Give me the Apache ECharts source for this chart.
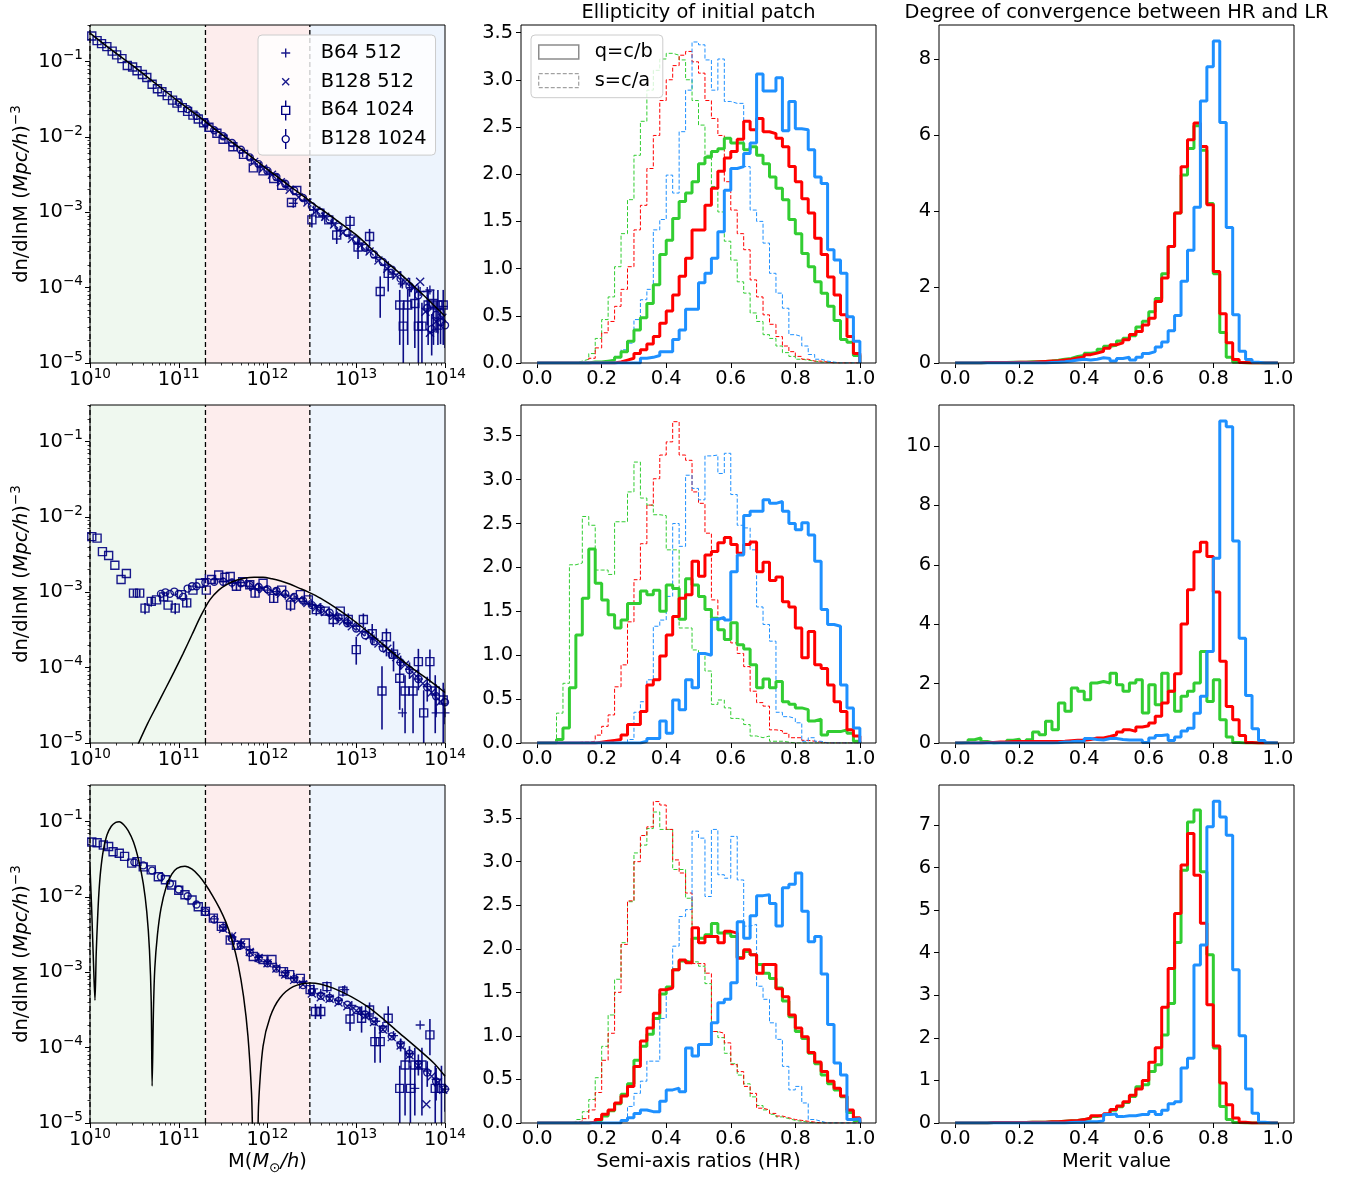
<!DOCTYPE html>
<html>
<head>
<meta charset="utf-8">
<script src="https://cdn.jsdelivr.net/npm/echarts@6/dist/echarts.min.js"></script>
<style>
  html, body { margin: 0; padding: 0; background: #ffffff; }
  #chart { width: 1360px; height: 1178px; }
</style>
</head>
<body>
<div id="chart"></div>
<script>
// ---------------- axis ranges and ticks ----------------
const massRange = [10, 14];            // log10 M [Msun/h]
const densRange = [-5, -0.513];        // log10 dn/dlnM [(Mpc/h)^-3]
const ratioRange = [-0.05, 1.05];
const ellipYMax = [3.58, 3.85, 3.88];
const meritYMax = [8.90, 11.38, 7.94];
const massTickExp = [10, 11, 12, 13, 14];
const densTickExp = [-5, -4, -3, -2, -1];
const ratioTicks = [0, 0.2, 0.4, 0.6, 0.8, 1.0];
const ellipTicks = [0, 0.5, 1.0, 1.5, 2.0, 2.5, 3.0, 3.5];
const meritTicks = [[0, 2, 4, 6, 8], [0, 2, 4, 6, 8, 10], [0, 1, 2, 3, 4, 5, 6, 7]];
const massBandEdges = [1e10, 2e11, 3e12, 1e14];   // low / mid / high mass ranges
const binWidth = 0.02;

// ---------------- mass functions (log10 M, log10 dn/dlnM) ----------------
const hmfTheory1 = [[10.0,-0.62],[10.25,-0.85],[10.5,-1.07],[10.75,-1.30],[11.0,-1.53],[11.25,-1.75],[11.5,-1.98],[11.75,-2.20],[12.0,-2.43],[12.25,-2.65],[12.5,-2.87],[12.75,-3.08],[13.0,-3.30],[13.25,-3.57],[13.5,-3.82],[13.75,-4.09],[14.0,-4.38]];
const b64_1024_1 = [[10.02,-0.66],[10.08,-0.72],[10.13,-0.76],[10.19,-0.80],[10.25,-0.86],[10.30,-0.91],[10.36,-0.96],[10.42,-1.05],[10.48,-1.07],[10.53,-1.12],[10.59,-1.17],[10.64,-1.21],[10.70,-1.30],[10.76,-1.36],[10.81,-1.40],[10.87,-1.45],[10.93,-1.51],[10.98,-1.55],[11.04,-1.61],[11.10,-1.66],[11.16,-1.71],[11.22,-1.76],[11.28,-1.81],[11.34,-1.87],[11.43,-1.95],[11.50,-2.03],[11.61,-2.13],[11.73,-2.23],[11.84,-2.41],[11.95,-2.45],[12.07,-2.55],[12.16,-2.64],[12.27,-2.87],[12.33,-2.71],[12.50,-3.10],[12.59,-3.01],[12.69,-3.10],[12.78,-3.30],[12.93,-3.12],[13.02,-3.46],[13.15,-3.32],[13.27,-4.05],[13.36,-3.81],[13.49,-4.23],[13.53,-4.51],[13.58,-4.23],[13.66,-4.21],[13.70,-4.51],[13.74,-4.51],[13.81,-4.23],[13.87,-4.21],[13.92,-4.23],[13.98,-4.23]];
const err64_1 = [[12.50,-3.20,-3.02],[12.78,-3.42,-3.20],[12.93,-3.22,-3.04],[13.02,-3.62,-3.34],[13.15,-3.45,-3.22],[13.27,-4.40,-3.85],[13.36,-4.05,-3.65],[13.49,-4.76,-4.03],[13.53,-5.3,-4.20],[13.58,-4.76,-4.03],[13.66,-4.80,-4.00],[13.70,-5.3,-4.20],[13.74,-5.3,-4.20],[13.81,-4.76,-4.03],[13.87,-4.76,-4.03],[13.92,-4.76,-4.03],[13.98,-4.76,-4.03]];
const b128_1024_1 = [[11.0,-1.54],[11.1,-1.63],[11.2,-1.72],[11.3,-1.81],[11.4,-1.91],[11.5,-1.99],[11.6,-2.08],[11.7,-2.17],[11.8,-2.27],[11.9,-2.36],[12.0,-2.45],[12.1,-2.53],[12.2,-2.62],[12.3,-2.71],[12.4,-2.81],[12.5,-2.92],[12.6,-3.00],[12.7,-3.10],[12.8,-3.19],[12.9,-3.27],[13.0,-3.37],[13.1,-3.47],[13.2,-3.56],[13.3,-3.66],[13.4,-3.76],[13.5,-3.88],[13.6,-3.98],[13.7,-4.10],[13.8,-4.27],[13.85,-4.55],[13.9,-4.36],[13.95,-4.46],[14.0,-4.50]];
const err128_1 = [[13.5,-4.00,-3.78],[13.6,-4.12,-3.87],[13.7,-4.27,-3.97],[13.8,-4.50,-4.10],[13.85,-4.90,-4.35],[13.9,-4.60,-4.18],[13.95,-4.75,-4.26],[14.0,-4.80,-4.30]];
const b64_512_1 = [[11.32,-1.84],[11.42,-1.93],[11.52,-2.02],[11.62,-2.12],[11.72,-2.21],[11.82,-2.30],[11.92,-2.39],[12.02,-2.48],[12.12,-2.57],[12.22,-2.66],[12.29,-2.88],[12.42,-2.84],[12.52,-2.97],[12.62,-3.05],[12.72,-3.14],[12.82,-3.24],[12.92,-3.30],[13.02,-3.42],[13.12,-3.50],[13.22,-3.60],[13.32,-3.70],[13.42,-3.82],[13.52,-3.95],[13.62,-4.00],[13.72,-4.05],[13.80,-4.05],[13.83,-4.03],[13.92,-4.55],[13.98,-4.25]];
const b128_512_1 = [[11.85,-2.33],[11.95,-2.42],[12.05,-2.50],[12.15,-2.60],[12.25,-2.70],[12.35,-2.80],[12.45,-2.87],[12.55,-2.98],[12.65,-3.06],[12.75,-3.16],[12.85,-3.27],[12.95,-3.35],[13.05,-3.44],[13.15,-3.52],[13.25,-3.64],[13.35,-3.75],[13.45,-3.84],[13.55,-3.92],[13.65,-4.00],[13.72,-3.92],[13.78,-4.32],[13.83,-4.60],[13.90,-4.45],[13.97,-4.40]];

const hmfTheory2 = [[10.54,-5.02],[10.65,-4.74],[10.75,-4.51],[10.85,-4.28],[10.95,-4.05],[11.05,-3.81],[11.15,-3.56],[11.25,-3.31],[11.35,-3.10],[11.45,-2.97],[11.55,-2.89],[11.65,-2.84],[11.75,-2.81],[11.85,-2.80],[11.95,-2.80],[12.05,-2.82],[12.15,-2.85],[12.25,-2.89],[12.35,-2.94],[12.45,-2.99],[12.6,-3.08],[12.8,-3.23],[13.0,-3.40],[13.2,-3.59],[13.4,-3.79],[13.6,-3.98],[13.8,-4.15],[14.0,-4.33]];
const b64_1024_2 = [[10.02,-2.26],[10.08,-2.28],[10.14,-2.46],[10.21,-2.51],[10.28,-2.64],[10.35,-2.83],[10.41,-2.75],[10.49,-3.01],[10.56,-3.01],[10.62,-3.21],[10.69,-3.12],[10.75,-3.10],[10.83,-3.06],[10.88,-3.17],[10.96,-3.21],[11.03,-3.03],[11.09,-3.14],[11.16,-2.97],[11.24,-2.88],[11.31,-2.97],[11.37,-2.83],[11.45,-2.77],[11.52,-2.80],[11.58,-2.79],[11.65,-2.92],[11.72,-2.86],[11.80,-2.90],[11.86,-3.01],[11.95,-2.88],[12.07,-3.08],[12.16,-2.97],[12.26,-3.17],[12.37,-3.03],[12.46,-3.10],[12.55,-3.23],[12.65,-3.25],[12.74,-3.36],[12.82,-3.25],[12.91,-3.36],[13.00,-3.76],[13.08,-3.36],[13.18,-3.55],[13.29,-4.31],[13.34,-3.59],[13.42,-3.82],[13.49,-4.14],[13.55,-4.31],[13.64,-4.31],[13.70,-3.92],[13.76,-4.60],[13.83,-3.92],[13.89,-4.31],[13.98,-4.43]];
const err64_2 = [[10.49,-3.06,-2.96],[10.56,-3.06,-2.96],[10.62,-3.29,-3.14],[10.69,-3.19,-3.06],[10.83,-3.12,-3.00],[10.96,-3.29,-3.14],[11.09,-3.20,-3.08],[11.65,-2.98,-2.87],[11.86,-3.07,-2.95],[12.07,-3.14,-3.03],[12.26,-3.25,-3.10],[12.55,-3.31,-3.16],[12.74,-3.46,-3.28],[12.91,-3.46,-3.28],[13.00,-3.96,-3.59],[13.08,-3.46,-3.28],[13.18,-3.70,-3.42],[13.29,-4.82,-3.98],[13.34,-3.85,-3.48],[13.42,-4.05,-3.65],[13.49,-4.56,-3.90],[13.55,-4.87,-4.10],[13.64,-4.87,-4.10],[13.70,-4.20,-3.75],[13.76,-5.3,-4.30],[13.83,-4.20,-3.76],[13.89,-4.87,-4.10],[13.98,-5.3,-4.20]];
const b128_1024_2 = [[10.80,-3.02],[10.85,-3.00],[10.90,-3.02],[10.95,-2.99],[11.00,-3.02],[11.05,-3.06],[11.10,-2.95],[11.15,-2.92],[11.20,-2.92],[11.30,-2.87],[11.40,-2.86],[11.50,-2.86],[11.60,-2.87],[11.70,-2.88],[11.80,-2.90],[11.90,-2.93],[12.00,-2.96],[12.10,-2.98],[12.20,-3.02],[12.30,-3.06],[12.40,-3.11],[12.50,-3.17],[12.60,-3.22],[12.70,-3.27],[12.80,-3.33],[12.90,-3.41],[13.00,-3.48],[13.10,-3.57],[13.20,-3.65],[13.30,-3.74],[13.40,-3.83],[13.50,-3.93],[13.60,-4.03],[13.70,-4.15],[13.80,-4.26],[13.90,-4.38],[14.00,-4.46]];
const err128_2 = [[13.5,-4.03,-3.84],[13.6,-4.15,-3.93],[13.7,-4.30,-4.03],[13.8,-4.45,-4.12],[13.9,-4.62,-4.22],[14.0,-4.75,-4.28]];
const b64_512_2 = [[11.30,-2.82],[11.40,-2.83],[11.50,-2.86],[11.60,-2.88],[11.70,-2.87],[11.80,-2.92],[11.90,-2.95],[12.00,-2.97],[12.10,-2.99],[12.20,-3.04],[12.30,-3.08],[12.40,-3.12],[12.50,-3.16],[12.60,-3.20],[12.70,-3.30],[12.80,-3.35],[12.90,-3.40],[13.00,-3.45],[13.10,-3.52],[13.20,-3.62],[13.30,-3.72],[13.40,-3.80],[13.50,-3.93],[13.52,-4.60],[13.60,-4.02],[13.70,-4.15],[13.80,-4.25],[13.90,-4.60],[14.00,-4.60]];
const b128_512_2 = [[11.85,-2.93],[11.95,-2.96],[12.05,-2.99],[12.15,-3.02],[12.25,-3.07],[12.35,-3.10],[12.45,-3.14],[12.55,-3.20],[12.65,-3.26],[12.75,-3.31],[12.85,-3.38],[12.95,-3.45],[13.05,-3.53],[13.15,-3.58],[13.25,-3.68],[13.35,-3.75],[13.45,-3.86],[13.55,-3.96],[13.65,-4.08],[13.75,-4.21],[13.85,-4.33],[13.95,-4.45]];

const hmfTheory3 = [[10.0,-1.60],[10.02,-2.20],[10.04,-2.90],[10.056,-3.37],[10.07,-2.75],[10.085,-2.30],[10.10,-1.95],[10.12,-1.65],[10.15,-1.38],[10.19,-1.18],[10.24,-1.06],[10.29,-1.01],[10.33,-1.00],[10.38,-1.04],[10.43,-1.12],[10.49,-1.27],[10.55,-1.52],[10.60,-1.82],[10.64,-2.20],[10.67,-2.70],[10.69,-3.40],[10.70,-4.51],[10.715,-3.50],[10.73,-2.95],[10.76,-2.50],[10.80,-2.15],[10.86,-1.86],[10.92,-1.70],[10.98,-1.62],[11.07,-1.59],[11.15,-1.63],[11.23,-1.72],[11.30,-1.83],[11.38,-1.98],[11.46,-2.15],[11.53,-2.33],[11.60,-2.57],[11.67,-2.90],[11.73,-3.32],[11.78,-3.85],[11.82,-4.60],[11.85,-5.60],[11.88,-5.60],[11.90,-4.74],[11.95,-3.98],[12.03,-3.59],[12.14,-3.34],[12.29,-3.19],[12.48,-3.14],[12.74,-3.21],[13.12,-3.45],[13.49,-3.81],[13.87,-4.20],[14.0,-4.38]];
const b64_1024_3 = [[10.02,-1.27],[10.08,-1.28],[10.15,-1.31],[10.21,-1.33],[10.26,-1.40],[10.33,-1.42],[10.39,-1.46],[10.47,-1.55],[10.53,-1.53],[10.60,-1.60],[10.69,-1.64],[10.77,-1.73],[10.85,-1.77],[10.92,-1.84],[11.00,-1.91],[11.07,-1.97],[11.15,-2.04],[11.22,-2.13],[11.30,-2.19],[11.39,-2.28],[11.48,-2.39],[11.58,-2.57],[11.65,-2.64],[11.75,-2.61],[11.84,-2.79],[11.95,-2.83],[12.05,-2.83],[12.18,-2.99],[12.25,-3.03],[12.37,-3.08],[12.48,-3.23],[12.54,-3.52],[12.60,-3.52],[12.67,-3.19],[12.85,-3.25],[12.93,-3.62],[13.06,-3.61],[13.15,-3.50],[13.21,-3.92],[13.27,-3.92],[13.36,-3.61],[13.49,-4.54],[13.55,-4.23],[13.61,-4.54],[13.66,-4.23],[13.74,-4.23],[13.83,-3.83],[13.89,-4.54],[13.96,-4.54]];
const err64_3 = [[12.48,-3.30,-3.17],[12.54,-3.62,-3.42],[12.60,-3.62,-3.42],[12.67,-3.27,-3.12],[12.85,-3.32,-3.18],[12.93,-3.78,-3.48],[13.06,-3.80,-3.45],[13.15,-3.62,-3.40],[13.21,-4.20,-3.72],[13.27,-4.20,-3.72],[13.36,-3.80,-3.45],[13.49,-5.3,-4.24],[13.55,-4.90,-4.00],[13.61,-5.3,-4.24],[13.66,-4.90,-4.00],[13.74,-4.90,-4.00],[13.83,-4.10,-3.62],[13.89,-5.3,-4.24],[13.96,-5.3,-4.24]];
const b128_1024_3 = [[10.5,-1.54],[10.6,-1.58],[10.7,-1.65],[10.8,-1.73],[10.9,-1.82],[11.0,-1.90],[11.1,-1.99],[11.2,-2.10],[11.3,-2.20],[11.4,-2.30],[11.5,-2.41],[11.6,-2.55],[11.7,-2.64],[11.8,-2.74],[11.9,-2.82],[12.0,-2.88],[12.1,-2.95],[12.2,-3.02],[12.3,-3.09],[12.4,-3.17],[12.5,-3.26],[12.6,-3.31],[12.7,-3.34],[12.8,-3.38],[12.9,-3.43],[13.0,-3.50],[13.1,-3.56],[13.2,-3.65],[13.3,-3.75],[13.4,-3.85],[13.5,-3.96],[13.6,-4.08],[13.7,-4.22],[13.8,-4.33],[13.9,-4.45],[14.0,-4.55]];
const err128_3 = [[13.5,-4.05,-3.88],[13.6,-4.20,-3.98],[13.7,-4.37,-4.09],[13.8,-4.52,-4.18],[13.9,-4.70,-4.27],[14.0,-4.85,-4.35]];
const b64_512_3 = [[11.3,-2.19],[11.4,-2.29],[11.5,-2.40],[11.6,-2.53],[11.7,-2.62],[11.8,-2.70],[11.9,-2.80],[12.0,-2.86],[12.1,-2.93],[12.2,-3.00],[12.3,-3.07],[12.4,-3.12],[12.52,-3.22],[12.6,-3.28],[12.7,-3.32],[12.8,-3.37],[12.87,-3.23],[12.95,-3.44],[13.05,-3.52],[13.15,-3.58],[13.22,-3.65],[13.3,-3.72],[13.42,-3.84],[13.5,-3.94],[13.6,-4.08],[13.66,-4.54],[13.72,-3.70],[13.8,-4.31],[13.9,-4.42],[14.0,-4.55]];
const b128_512_3 = [[11.5,-2.42],[11.6,-2.52],[11.7,-2.63],[11.8,-2.73],[11.9,-2.81],[12.0,-2.88],[12.1,-2.95],[12.2,-3.03],[12.3,-3.10],[12.4,-3.16],[12.5,-3.28],[12.6,-3.33],[12.7,-3.35],[12.8,-3.40],[12.9,-3.45],[13.0,-3.51],[13.1,-3.58],[13.2,-3.66],[13.3,-3.76],[13.4,-3.86],[13.5,-3.97],[13.6,-4.10],[13.7,-4.24],[13.79,-4.75],[13.85,-4.38],[13.92,-4.46],[13.98,-4.56]];

// ---------------- ellipticity histograms (50 bins of 0.02 on [0,1]) ----------------
// q = c/b (solid) and s = c/a (dashed); low / mid / high mass ranges
const qLow1 = [0,0,0,0,0, 0,0,0,0.01,0.01,
  0.02,0.03,0.06,0.12,0.23, 0.35,0.48,0.63,0.83,1.15,
  1.30,1.53,1.71,1.80,1.92, 2.11,2.18,2.24,2.27,2.38,
  2.33,2.33,2.26,2.29,2.20, 2.11,1.97,1.85,1.73,1.52,
  1.37,1.16,1.02,0.86,0.74, 0.60,0.45,0.25,0.22,0.08];
const qMid1 = [0,0,0,0,0, 0,0,0,0,0,
  0,0,0.01,0.03,0.05, 0.10,0.14,0.20,0.28,0.42,
  0.55,0.72,0.92,1.11,1.41, 1.41,1.67,1.85,2.03,2.17,
  2.24,2.37,2.56,2.47,2.59, 2.45,2.43,2.38,2.29,2.08,
  1.92,1.74,1.59,1.32,1.15, 0.91,0.72,0.51,0.28,0.10];
const qHigh1 = [0,0,0,0,0, 0,0,0,0,0,
  0,0,0,0,0, 0,0.05,0.06,0.08,0.12,
  0.12,0.25,0.35,0.57,0.57, 0.85,0.95,1.11,1.39,1.83,
  2.06,2.08,2.22,2.33,3.06, 2.88,2.88,3.02,2.46,2.77,
  2.48,2.47,2.26,1.97,1.90, 1.20,1.09,0.95,0.49,0.23];
const sLow1 = [0,0,0,0,0, 0,0.02,0.04,0.10,0.26,
  0.46,0.70,1.02,1.37,1.73, 2.20,2.56,2.89,3.10,3.22,
  3.28,3.26,3.21,3.00,2.78, 2.52,2.20,1.87,1.60,1.29,
  1.09,0.86,0.74,0.53,0.44, 0.30,0.26,0.18,0.11,0.07,
  0.04,0.03,0.02,0.01,0.01, 0,0,0,0,0];
const sMid1 = [0,0,0,0,0, 0,0,0.01,0.05,0.16,
  0.32,0.44,0.60,0.78,1.02, 1.41,1.67,2.06,2.41,2.78,
  3.00,3.15,3.26,3.30,3.19, 3.07,2.78,2.59,2.41,1.92,
  1.62,1.37,1.20,0.88,0.70, 0.51,0.41,0.28,0.18,0.12,
  0.07,0.04,0.02,0.02,0.01, 0,0,0,0,0];
const sHigh1 = [0,0,0,0,0, 0,0,0,0,0,
  0.02,0.04,0.07,0.14,0.21, 0.46,0.67,0.78,1.41,1.52,
  1.99,1.80,2.45,2.89,3.40, 3.37,3.21,2.89,3.22,2.77,
  2.75,2.75,2.08,1.62,1.50, 1.27,0.95,0.74,0.58,0.30,
  0.28,0.18,0.09,0.04,0.02, 0.01,0,0,0,0];

const qLow2 = [0,0,0,0.04,0.17, 0.63,1.23,1.65,2.21,1.82,
  1.63,1.46,1.31,1.40,1.59, 1.59,1.73,1.69,1.74,1.50,
  1.80,1.76,1.41,1.87,1.80, 1.67,1.52,1.42,1.29,1.18,
  1.37,1.12,1.07,0.89,0.63, 0.73,0.63,0.70,0.47,0.44,
  0.40,0.38,0.25,0.27,0.09, 0.13,0.13,0.15,0.11,0.02];
const qMid2 = [0,0,0,0,0, 0,0,0,0,0.01,
  0.02,0.03,0.04,0.09,0.21, 0.21,0.36,0.66,0.72,0.99,
  1.23,1.44,1.65,1.69,2.07, 1.90,2.14,2.18,2.28,2.34,
  2.26,2.16,2.26,2.29,1.95, 2.06,1.85,1.89,1.61,1.55,
  1.31,0.97,1.27,0.89,0.85, 0.66,0.47,0.36,0.15,0.08];
const qHigh2 = [0,0,0,0,0, 0,0,0,0,0,
  0,0,0,0,0, 0,0.02,0.05,0.05,0.25,
  0.11,0.49,0.38,0.72,0.63, 1.02,1.00,1.41,1.43,1.40,
  1.95,2.14,2.59,2.64,2.64, 2.77,2.73,2.75,2.64,2.50,
  2.43,2.51,2.37,2.07,1.52, 1.35,1.33,0.66,0.40,0.17];
const sLow2 = [0,0,0,0.34,0.68, 2.03,2.05,2.58,2.48,1.97,
  1.97,1.92,2.52,2.52,2.86, 3.20,2.79,2.71,2.60,2.59,
  2.20,2.20,1.31,1.31,1.06, 1.02,0.82,0.44,0.49,0.40,
  0.28,0.27,0.21,0.08,0.06, 0.08,0.02,0.02,0.01,0,
  0,0,0,0,0, 0,0,0,0,0];
const sMid2 = [0,0,0,0,0, 0,0.01,0.01,0.02,0.09,
  0.19,0.32,0.64,0.89,1.38, 1.86,2.27,2.71,3.01,3.28,
  3.43,3.66,3.28,3.22,2.86, 2.73,2.39,1.63,1.41,1.40,
  1.14,1.02,0.87,0.59,0.46, 0.42,0.15,0.14,0.11,0.06,
  0.06,0.03,0.02,0.01,0, 0,0,0,0,0];
const sHigh2 = [0,0,0,0,0, 0,0,0,0,0,
  0,0,0,0,0.04, 0.35,0.47,0.72,1.33,1.40,
  1.67,2.50,2.24,3.05,2.90, 2.77,3.27,3.28,3.07,3.30,
  2.83,2.48,2.45,2.20,1.55, 1.35,1.16,0.35,0.30,0.28,
  0.23,0.02,0.06,0.02,0, 0,0,0,0,0];

const qLow3 = [0,0,0,0,0, 0,0,0,0.01,0.03,
  0.08,0.14,0.22,0.33,0.45, 0.72,0.88,1.02,1.20,1.48,
  1.56,1.76,1.86,1.84,2.12, 2.12,2.16,2.29,2.18,2.18,
  2.14,1.90,1.97,1.93,1.82, 1.72,1.66,1.55,1.40,1.22,
  1.05,0.97,0.80,0.68,0.55, 0.45,0.38,0.30,0.12,0.03];
const qMid3 = [0,0,0,0,0, 0,0,0,0.01,0.04,
  0.10,0.15,0.23,0.31,0.42, 0.65,0.94,1.09,1.26,1.53,
  1.55,1.76,1.87,1.84,2.24, 2.07,2.14,2.14,2.07,2.20,
  2.18,1.89,1.99,1.93,1.72, 1.82,1.82,1.54,1.45,1.24,
  1.09,0.99,0.81,0.70,0.59, 0.48,0.40,0.31,0.15,0.06];
const qHigh3 = [0,0,0,0,0, 0,0,0,0,0,
  0,0,0,0.03,0.06, 0.11,0.15,0.13,0.13,0.25,
  0.38,0.40,0.36,0.86,0.77, 0.90,0.90,1.15,1.38,1.42,
  1.61,2.31,2.12,2.38,2.61, 2.62,2.52,2.26,2.70,2.74,
  2.87,2.43,2.08,2.14,1.71, 1.13,0.69,0.55,0.04,0.05];
const sLow3 = [0,0,0,0,0, 0.01,0.04,0.13,0.27,0.52,
  0.88,1.24,1.65,2.07,2.54, 3.10,3.19,3.38,3.57,3.37,
  3.37,2.91,2.91,2.58,1.85, 1.80,1.60,1.05,0.98,0.80,
  0.68,0.55,0.45,0.30,0.20, 0.15,0.10,0.07,0.05,0.03,
  0.02,0.01,0,0,0, 0,0,0,0,0];
const sMid3 = [0,0,0,0,0, 0.01,0.02,0.05,0.15,0.35,
  0.72,1.03,1.50,2.05,2.55, 3.00,3.30,3.40,3.69,3.65,
  3.37,3.02,2.87,2.64,1.83, 1.83,1.72,1.05,1.03,0.92,
  0.67,0.59,0.42,0.34,0.17, 0.15,0.11,0.08,0.06,0.04,
  0.03,0.02,0.01,0,0, 0,0,0,0,0];
const sHigh3 = [0,0,0,0,0, 0,0,0,0,0,
  0,0,0,0.04,0.19, 0.34,0.48,0.71,0.71,1.20,
  1.53,2.03,2.37,2.45,3.35, 3.27,2.60,3.37,2.85,2.81,
  3.29,2.79,2.26,2.28,1.57, 1.42,1.15,0.96,0.65,0.38,
  0.42,0.23,0.04,0.02,0, 0,0,0,0,0];

// ---------------- merit histograms (50 bins of 0.02 on [0,1]) ----------------
const mLow1 = [0,0,0,0,0.01, 0.01,0.01,0.01,0.02,0.02,
  0.02,0.03,0.03,0.04,0.05, 0.07,0.10,0.12,0.17,0.20,
  0.26,0.28,0.36,0.44,0.47, 0.58,0.65,0.72,0.95,1.10,
  1.35,1.70,2.35,3.07,3.95, 4.95,5.65,6.25,5.60,4.20,
  2.35,0.80,0.15,0.02,0, 0,0,0,0,0];
const mMid1 = [0,0,0,0,0.01, 0.01,0.01,0.01,0.01,0.02,
  0.02,0.02,0.03,0.04,0.05, 0.06,0.08,0.10,0.13,0.16,
  0.22,0.26,0.31,0.39,0.48, 0.53,0.61,0.75,0.83,1.00,
  1.18,1.62,2.24,3.07,3.95, 5.17,5.88,6.32,5.70,4.17,
  2.41,1.30,0.53,0.09,0.01, 0,0,0,0,0];
const mHigh1 = [0,0,0,0,0, 0,0,0,0,0,
  0,0,0,0,0.01, 0.02,0.03,0.05,0.08,0.10,
  0.08,0.10,0.14,0.12,0.05, 0.12,0.15,0.08,0.15,0.25,
  0.30,0.42,0.55,0.85,1.25, 2.15,2.97,4.10,6.90,7.80,
  8.48,6.33,3.57,1.27,0.31, 0.09,0.02,0,0,0];

const mLow2 = [0,0.02,0.11,0.17,0.05, 0,0.02,0.02,0.09,0.13,
  0.02,0.11,0.37,0.28,0.73, 0.45,1.35,1.07,1.85,1.74,
  1.46,2.02,2.07,2.02,2.35, 1.96,1.74,2.02,2.13,1.01,
  1.96,1.29,2.35,1.74,1.07, 1.57,1.74,2.02,3.08,1.40,
  2.13,0.78,0.20,0.02,0, 0,0,0,0,0];
const mMid2 = [0,0,0,0,0.02, 0.02,0.03,0.03,0.05,0.05,
  0.05,0.05,0.05,0.05,0.05, 0.05,0.06,0.08,0.09,0.09,
  0.12,0.17,0.17,0.22,0.28, 0.37,0.45,0.39,0.54,0.58,
  0.67,0.90,1.35,1.74,2.33, 4.01,5.16,6.44,6.76,6.28,
  5.08,2.75,1.23,0.78,0.25, 0.02,0,0,0,0];
const mHigh2 = [0,0,0,0,0, 0,0,0,0,0,
  0,0,0,0,0, 0.01,0.03,0.04,0.06,0.05,
  0.15,0.12,0.10,0.15,0.15, 0.12,0.10,0.10,0.10,0.02,
  0.17,0.25,0.28,0.08,0.20, 0.40,0.50,1.00,1.57,3.08,
  6.22,10.84,10.65,6.80,3.53, 1.60,0.48,0.08,0.01,0];

const mLow3 = [0,0,0,0,0, 0.01,0.01,0.01,0.01,0.01,
  0.01,0.02,0.02,0.02,0.03, 0.03,0.04,0.05,0.06,0.08,
  0.10,0.15,0.18,0.22,0.30, 0.38,0.48,0.62,0.85,0.90,
  1.21,1.37,2.07,2.81,4.24, 5.94,7.07,7.35,5.90,3.95,
  1.76,0.39,0.08,0.01,0, 0,0,0,0,0];
const mMid3 = [0,0,0,0,0, 0.01,0.01,0.01,0.01,0.01,
  0.01,0.02,0.02,0.02,0.03, 0.03,0.04,0.05,0.06,0.08,
  0.12,0.17,0.17,0.22,0.32, 0.40,0.50,0.65,0.80,1.00,
  1.43,1.77,2.72,3.63,4.92, 6.06,6.80,5.82,4.69,2.78,
  1.81,0.94,0.43,0.12,0.02, 0,0,0,0,0];
const mHigh3 = [0,0,0,0,0, 0,0,0,0,0,
  0,0,0,0,0, 0,0,0.01,0.02,0.02,
  0.03,0.03,0.05,0.20,0.21, 0.15,0.17,0.17,0.20,0.20,
  0.27,0.20,0.30,0.45,0.50, 1.29,1.52,3.71,4.18,6.96,
  7.56,7.19,6.76,3.60,2.05, 0.80,0.23,0.02,0,0];

// ---------------- styling ----------------
const FONT = "'DejaVu Sans', sans-serif";
const INK = '#000000';
const NAVY = '#000080';
const RANGE_COLORS = ['#32cd32', '#ff0000', '#1e90ff'];
const BAND_FILLS = ['#eff8ef', '#fdeded', '#edf4fd'];
const GRID_LEFT = [90, 521, 939], GRID_TOP = [25, 405, 785], GW = 355, GH = 338;
const LABEL_SIZE = 19.4;
const SCRIPT_SIZE = 13.6;

const SYM_PLUS = 'path://M0,5H10M5,0V10';
const SYM_CROSS = 'path://M0,0L10,10M10,0L0,10';
const ICON_PLUS = 'path://M0,0M40,20M15.5,10H24.5M20,5.5V14.5';
const ICON_CROSS = 'path://M0,0M40,20M16.5,6.5L23.5,13.5M23.5,6.5L16.5,13.5';
const ICON_SQBAR = 'path://M0,0M40,20M16,6H24V14H16Z M20,0V6M20,14V20';
const ICON_CIBAR = 'path://M0,0M40,20M23.5,10A3.5,3.5,0,1,1,16.5,10A3.5,3.5,0,1,1,23.5,10Z M20,0V6.5M20,13.5V20';

const hmfRows = [
  {theory: hmfTheory1, p512: b64_512_1, x512: b128_512_1, s1024: b64_1024_1, c1024: b128_1024_1, sErr: err64_1, cErr: err128_1},
  {theory: hmfTheory2, p512: b64_512_2, x512: b128_512_2, s1024: b64_1024_2, c1024: b128_1024_2, sErr: err64_2, cErr: err128_2},
  {theory: hmfTheory3, p512: b64_512_3, x512: b128_512_3, s1024: b64_1024_3, c1024: b128_1024_3, sErr: err64_3, cErr: err128_3}
];
const ellipRows = [
  {q: [qLow1, qMid1, qHigh1], s: [sLow1, sMid1, sHigh1]},
  {q: [qLow2, qMid2, qHigh2], s: [sLow2, sMid2, sHigh2]},
  {q: [qLow3, qMid3, qHigh3], s: [sLow3, sMid3, sHigh3]}
];
const meritRows = [[mLow1, mMid1, mHigh1], [mLow2, mMid2, mHigh2], [mLow3, mMid3, mHigh3]];

// ---------------- helpers ----------------
const massMinor = [];
for (let e = massRange[0]; e < massRange[1]; e++) for (let k = 2; k <= 9; k++) massMinor.push(e + Math.log10(k));
const densMinor = [];
for (let e = densRange[0]; e < 0; e++) for (let k = 2; k <= 9; k++) {
  const v = e + Math.log10(k);
  if (v <= densRange[1]) densMinor.push(v);
}
const bandData = [];
for (let i = 0; i < massBandEdges.length - 1; i++) bandData.push([Math.log10(massBandEdges[i]), Math.log10(massBandEdges[i + 1])]);
const boundaryData = massBandEdges.slice(0, 3).map(m => [Math.log10(m)]);

function powLabel(v) {
  const e = Math.round(v);
  return '{b|10}{s|' + (e < 0 ? '\u2212' + (-e) : String(e)) + '}';
}
const powRich = {
  b: {fontFamily: FONT, fontSize: LABEL_SIZE, color: INK, lineHeight: 26},
  s: {fontFamily: FONT, fontSize: SCRIPT_SIZE, color: INK, lineHeight: 10, verticalAlign: 'top'}
};
const nameRich = {
  t: {fontFamily: FONT, fontSize: LABEL_SIZE, color: INK, lineHeight: 26},
  i: {fontFamily: FONT, fontSize: LABEL_SIZE, color: INK, lineHeight: 26, fontStyle: 'italic'},
  p: {fontFamily: FONT, fontSize: SCRIPT_SIZE, color: INK, lineHeight: 10, verticalAlign: 'top'},
  d: {fontFamily: FONT, fontSize: SCRIPT_SIZE, color: INK, lineHeight: 12, verticalAlign: 'bottom'}
};
const tickStyle = {color: INK, width: 1};
const plainLabel = {fontFamily: FONT, fontSize: LABEL_SIZE, color: INK};

function stepData(vals) {
  const d = [[0, 0]];
  vals.forEach((v, i) => d.push([i * binWidth, v]));
  d.push([vals.length * binWidth, 0]);
  return d;
}

const option = {
  animation: false,
  backgroundColor: '#ffffff',
  textStyle: {fontFamily: FONT},
  grid: [], xAxis: [], yAxis: [], series: [], legend: [], graphic: []
};

const noLine = {show: false, onZero: false};
const ax = [[], [], []];
for (let r = 0; r < 3; r++) {
  for (let c = 0; c < 3; c++) {
    const gi = option.grid.length;
    option.grid.push({left: GRID_LEFT[c], top: GRID_TOP[r], width: GW, height: GH,
      show: true, z: 10, backgroundColor: 'transparent', borderColor: INK, borderWidth: 1});
    const xi = option.xAxis.length, yi = option.yAxis.length;
    const bottom = r === 2;
    if (c === 0) {
      option.xAxis.push({
        type: 'value', gridIndex: gi, min: massRange[0], max: massRange[1], position: 'bottom',
        axisLine: noLine, splitLine: {show: false},
        axisTick: {show: true, length: 5, lineStyle: tickStyle, customValues: massTickExp},
        axisLabel: {customValues: massTickExp, formatter: powLabel, rich: powRich, margin: 4},
        name: bottom ? '{t|M(}{i|M}{d|\u2299}{i|/h}{t|)}' : '',
        nameLocation: 'middle', nameGap: 26,
        nameTextStyle: {fontFamily: FONT, fontSize: LABEL_SIZE, color: INK, rich: nameRich}
      });
      option.xAxis.push({
        type: 'value', gridIndex: gi, min: massRange[0], max: massRange[1], position: 'bottom',
        axisLine: noLine, splitLine: {show: false}, axisLabel: {show: false},
        axisTick: {show: true, length: 2.5, lineStyle: {color: INK, width: 0.8}, customValues: massMinor}
      });
      option.yAxis.push({
        type: 'value', gridIndex: gi, min: densRange[0], max: densRange[1], position: 'left',
        axisLine: noLine, splitLine: {show: false},
        axisTick: {show: true, length: 5, lineStyle: tickStyle, customValues: densTickExp},
        axisLabel: {customValues: densTickExp, formatter: powLabel, rich: powRich, margin: 7},
        name: '{t|dn/dlnM (}{i|Mpc/h}{t|)}{p|\u22123}',
        nameLocation: 'middle', nameRotate: 90, nameGap: 55,
        nameTextStyle: {fontFamily: FONT, fontSize: LABEL_SIZE, color: INK, rich: nameRich}
      });
      option.yAxis.push({
        type: 'value', gridIndex: gi, min: densRange[0], max: densRange[1], position: 'left',
        axisLine: noLine, splitLine: {show: false}, axisLabel: {show: false},
        axisTick: {show: true, length: 2.5, lineStyle: {color: INK, width: 0.8}, customValues: densMinor}
      });
    } else {
      const yTicks = c === 1 ? ellipTicks : meritTicks[r];
      option.xAxis.push({
        type: 'value', gridIndex: gi, min: ratioRange[0], max: ratioRange[1], position: 'bottom',
        axisLine: noLine, splitLine: {show: false},
        axisTick: {show: true, length: 5, lineStyle: tickStyle, customValues: ratioTicks},
        axisLabel: Object.assign({customValues: ratioTicks, formatter: v => v.toFixed(1), margin: 6.5}, plainLabel),
        name: bottom ? (c === 1 ? 'Semi-axis ratios (HR)' : 'Merit value') : '',
        nameLocation: 'middle', nameGap: 29,
        nameTextStyle: plainLabel
      });
      option.yAxis.push({
        type: 'value', gridIndex: gi, min: 0, max: c === 1 ? ellipYMax[r] : meritYMax[r], position: 'left',
        axisLine: noLine, splitLine: {show: false},
        axisTick: {show: true, length: 5, lineStyle: tickStyle, customValues: yTicks},
        axisLabel: Object.assign({customValues: yTicks, margin: 8,
          formatter: c === 1 ? (v => v.toFixed(1)) : (v => String(Math.round(v)))}, plainLabel)
      });
    }
    ax[r][c] = {x: xi, y: yi};
  }
}

// ---------------- mass-function panels ----------------
function errorBarItem(params, api) {
  const p = api.coord([api.value(0), api.value(1)]);
  const q = api.coord([api.value(0), api.value(2)]);
  return {type: 'line', shape: {x1: p[0], y1: p[1], x2: q[0], y2: q[1]},
    style: {stroke: NAVY, lineWidth: 1.6, opacity: 0.95}};
}
const markerStyle = {color: 'rgba(0,0,0,0)', borderColor: NAVY, borderWidth: 1.4, opacity: 0.9};

hmfRows.forEach((row, r) => {
  const a = ax[r][0];
  const base = {xAxisIndex: a.x, yAxisIndex: a.y, silent: true};
  option.series.push(Object.assign({
    type: 'custom', z: 0, clip: true, data: bandData, encode: {x: [0, 1]},
    renderItem: (params, api) => {
      const p0 = api.coord([api.value(0), densRange[1]]);
      const p1 = api.coord([api.value(1), densRange[0]]);
      return {type: 'rect', shape: {x: p0[0], y: p0[1], width: p1[0] - p0[0], height: p1[1] - p0[1]},
        style: {fill: BAND_FILLS[params.dataIndex]}};
    }
  }, base));
  option.series.push(Object.assign({
    type: 'custom', z: 1, clip: false, data: boundaryData, encode: {x: 0},
    renderItem: (params, api) => {
      const p0 = api.coord([api.value(0), densRange[0]]);
      const p1 = api.coord([api.value(0), densRange[1]]);
      return {type: 'line', shape: {x1: p0[0], y1: p0[1], x2: p1[0], y2: p1[1]},
        style: {stroke: INK, lineWidth: 1.3, lineDash: [5, 3]}};
    }
  }, base));
  option.series.push(Object.assign({type: 'custom', name: 'B64 1024', z: 3, clip: true,
    data: row.sErr, encode: {x: 0, y: [1, 2]}, renderItem: errorBarItem}, base));
  option.series.push(Object.assign({type: 'custom', name: 'B128 1024', z: 3, clip: true,
    data: row.cErr, encode: {x: 0, y: [1, 2]}, renderItem: errorBarItem}, base));
  option.series.push(Object.assign({type: 'scatter', name: 'B64 512', z: 4, data: row.p512,
    symbol: SYM_PLUS, symbolSize: 9, itemStyle: markerStyle}, base));
  option.series.push(Object.assign({type: 'scatter', name: 'B128 512', z: 4, data: row.x512,
    symbol: SYM_CROSS, symbolSize: 8, itemStyle: markerStyle}, base));
  option.series.push(Object.assign({type: 'scatter', name: 'B64 1024', z: 4, data: row.s1024,
    symbol: 'rect', symbolSize: 8, itemStyle: markerStyle}, base));
  option.series.push(Object.assign({type: 'scatter', name: 'B128 1024', z: 4, data: row.c1024,
    symbol: 'circle', symbolSize: 7, itemStyle: markerStyle}, base));
  option.series.push(Object.assign({type: 'line', z: 5, data: row.theory, symbol: 'none',
    smooth: 0.3, clip: true, lineStyle: {color: INK, width: 1.5}}, base));
});

// ---------------- ellipticity panels ----------------
ellipRows.forEach((row, r) => {
  const a = ax[r][1];
  for (let k = 0; k < 3; k++) {
    option.series.push({type: 'line', xAxisIndex: a.x, yAxisIndex: a.y, silent: true, z: 2,
      data: stepData(row.s[k]), step: 'end', symbol: 'none', clip: true,
      lineStyle: {color: RANGE_COLORS[k], width: 1, type: [4, 2]}});
  }
  for (let k = 0; k < 3; k++) {
    option.series.push({type: 'line', xAxisIndex: a.x, yAxisIndex: a.y, silent: true, z: 3,
      data: stepData(row.q[k]), step: 'end', symbol: 'none', clip: true,
      lineStyle: {color: RANGE_COLORS[k], width: 3}});
  }
});
option.series.push({type: 'line', name: 'q=c/b', xAxisIndex: ax[0][1].x, yAxisIndex: ax[0][1].y, data: []});
option.series.push({type: 'line', name: 's=c/a', xAxisIndex: ax[0][1].x, yAxisIndex: ax[0][1].y, data: []});

// ---------------- merit panels ----------------
meritRows.forEach((row, r) => {
  const a = ax[r][2];
  row.forEach((vals, k) => {
    option.series.push({type: 'line', xAxisIndex: a.x, yAxisIndex: a.y, silent: true, z: 3,
      data: stepData(vals), step: 'end', symbol: 'none', clip: true,
      lineStyle: {color: RANGE_COLORS[k], width: 3}});
  });
});

// ---------------- legends ----------------
const legendText = {fontFamily: FONT, fontSize: LABEL_SIZE, color: INK, lineHeight: 22, padding: [0, 0, 0, 10]};
const legendIconStyle = {color: 'rgba(0,0,0,0)', borderColor: NAVY, borderWidth: 1.4};
option.legend.push({
  left: 258, top: 35, orient: 'vertical', selectedMode: false,
  itemWidth: 40, itemHeight: 20, itemGap: 6.7, padding: [7, 9, 5, 7],
  backgroundColor: 'rgba(255,255,255,0.8)', borderColor: '#cccccc', borderWidth: 1, borderRadius: 4,
  textStyle: legendText,
  data: [
    {name: 'B64 512', icon: ICON_PLUS, itemStyle: legendIconStyle},
    {name: 'B128 512', icon: ICON_CROSS, itemStyle: legendIconStyle},
    {name: 'B64 1024', icon: ICON_SQBAR, itemStyle: legendIconStyle},
    {name: 'B128 1024', icon: ICON_CIBAR, itemStyle: legendIconStyle}
  ]
});
option.legend.push({
  left: 531, top: 35, orient: 'vertical', selectedMode: false,
  itemWidth: 40, itemHeight: 14, itemGap: 6.7, padding: [6, 10, 6, 7],
  backgroundColor: 'rgba(255,255,255,0.8)', borderColor: '#cccccc', borderWidth: 1, borderRadius: 4,
  textStyle: Object.assign({}, legendText, {padding: [0, 0, 0, 11]}),
  data: [
    {name: 'q=c/b', icon: 'rect', itemStyle: {color: 'rgba(0,0,0,0)', borderColor: '#8c8c8c', borderWidth: 1.5}},
    {name: 's=c/a', icon: 'rect', itemStyle: {color: 'rgba(0,0,0,0)', borderColor: '#8c8c8c', borderWidth: 1, borderType: 'dashed'}}
  ]
});

// ---------------- column titles ----------------
[['Ellipticity of initial patch', GRID_LEFT[1] + GW / 2], ['Degree of convergence between HR and LR', GRID_LEFT[2] + GW / 2]]
  .forEach(([text, cx]) => {
    option.graphic.push({type: 'text', x: cx, y: 12.5, silent: true,
      style: {text, font: LABEL_SIZE + 'px ' + FONT, fill: INK,
        textAlign: 'center', textVerticalAlign: 'middle', align: 'center', verticalAlign: 'middle'}});
  });

const chart = echarts.init(document.getElementById('chart'), null, {renderer: 'canvas'});
chart.setOption(option);
</script>
</body>
</html>
